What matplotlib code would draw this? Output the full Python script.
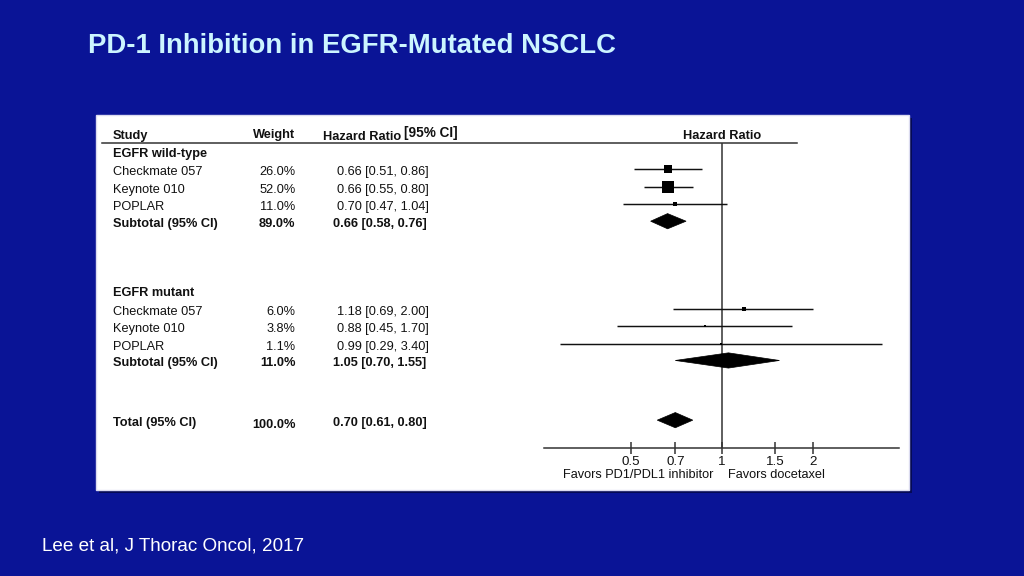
import matplotlib
matplotlib.use("Agg")
import matplotlib.pyplot as plt
from matplotlib.patches import Rectangle, Polygon
from matplotlib.lines import Line2D
from matplotlib.transforms import blended_transform_factory
from matplotlib.ticker import FixedLocator, NullLocator, FixedFormatter
from matplotlib import font_manager

# ---------------- data ----------------
wt_studies = ["Checkmate 057", "Keynote 010", "POPLAR"]
wt_weights = [26.0, 52.0, 11.0]
wt_hr = [0.66, 0.66, 0.70]
wt_lo = [0.51, 0.55, 0.47]
wt_hi = [0.86, 0.80, 1.04]
wt_sub = (89.0, 0.66, 0.58, 0.76)

mut_studies = ["Checkmate 057", "Keynote 010", "POPLAR"]
mut_weights = [6.0, 3.8, 1.1]
mut_hr = [1.18, 0.88, 0.99]
mut_lo = [0.69, 0.45, 0.29]
mut_hi = [2.00, 1.70, 3.40]
mut_sub = (11.0, 1.05, 0.70, 1.55)

total = (100.0, 0.70, 0.61, 0.80)

tick_values = [0.5, 0.7, 1, 1.5, 2]
tick_labels = ["0.5", "0.7", "1", "1.5", "2"]

# ---------------- style ----------------
W, H = 1024, 576
BG = "#0a1496"
names = {f.name for f in font_manager.fontManager.ttflist}
if "Liberation Sans Narrow" in names:
    title_font, title_size = "Liberation Sans Narrow", 24
else:
    title_font, title_size = "Liberation Sans", 19.8
FONT = "Liberation Sans"
plt.rcParams["font.family"] = [FONT, "DejaVu Sans"]
FS = 9.2

fig = plt.figure(figsize=(W / 100, H / 100), dpi=100, facecolor=BG)

def fx(px):
    return px / W

def fy(py):
    return 1 - py / H

# panel with shadow
fig.patches.append(Rectangle((fx(98.5), fy(493)), fx(909 - 95.7), (490 - 115) / H,
                             transform=fig.transFigure, facecolor="#050a55",
                             edgecolor="none", zorder=-3))
fig.patches.append(Rectangle((fx(95.7), fy(490)), fx(909 - 95.7), (490 - 115) / H,
                             transform=fig.transFigure, facecolor="white",
                             edgecolor="#dcdcf0", lw=1, zorder=-2))

# title & citation
fig.text(fx(88), fy(46), "PD-1 Inhibition in EGFR-Mutated NSCLC", family=[title_font, "DejaVu Sans"],
         fontsize=title_size, fontweight="bold", color="#ccf5ff", ha="left", va="center")
fig.text(fx(42), fy(546), "Lee et al, J Thorac Oncol, 2017", fontsize=13.6,
         color="white", ha="left", va="center")

# row layout (rows of 17.3 px starting at y=152 px)
ROW0, ROWH = 152.0, 17.3
def row_of(py):
    return (py - ROW0) / ROWH

TXT_DY = 3.0 / ROWH  # text sits slightly below the marker row

wt_head_row = 0
wt_rows = [1, 2, 3]
wt_sub_row = 4
mut_head_row = 8
mut_rows = [9.08, 10.08, 11.08]
mut_sub_row = 12.05
total_row = 15.5
header_row = -1.0

ax_top_px, ax_bot_px = 142.5, 447.5
ax = fig.add_axes([fx(544), fy(ax_bot_px), fx(899 - 544), (ax_bot_px - ax_top_px) / H])
ax.set_zorder(2)
ax.set_facecolor("none")
ax.set_xscale("log")
ax.set_xlim(0.257, 3.86)
ax.set_ylim(row_of(ax_bot_px), row_of(ax_top_px))
for s in ["top", "left", "right"]:
    ax.spines[s].set_visible(False)
ax.spines["bottom"].set_color("#333333")
ax.spines["bottom"].set_linewidth(1.1)
ax.set_yticks([])
ax.xaxis.set_major_locator(FixedLocator(tick_values))
ax.xaxis.set_major_formatter(FixedFormatter(tick_labels))
ax.xaxis.set_minor_locator(NullLocator())
ax.tick_params(axis="x", direction="inout", length=9, width=1.1, color="#333333",
               labelsize=9.6, pad=1.5, labelcolor="#111111")

# reference line at HR = 1
ax.axvline(1, color="#333333", lw=1.1, zorder=1)

# header line (within panel)
fig.add_artist(Line2D([fx(101.5), fx(797)], [fy(ax_top_px), fy(ax_top_px)],
                      transform=fig.transFigure, color="#333333", lw=1.1, zorder=3))

def square_size(w):
    side_px = 1.03 * w ** 0.6
    return (side_px * 0.72) ** 2

def draw_studies(rows, hr, lo, hi, weights):
    for r, h, l, u, w in zip(rows, hr, lo, hi, weights):
        ax.plot([l, u], [r, r], color="#111111", lw=1.05, solid_capstyle="butt", zorder=2)
        ax.scatter([h], [r], marker="s", s=square_size(w), color="#000000",
                   linewidths=0, zorder=3)

def draw_diamond(r, hr, lo, hi, half=0.44):
    ax.add_patch(Polygon([(lo, r), (hr, r - half), (hi, r), (hr, r + half)],
                         closed=True, facecolor="black", edgecolor="black", lw=0.5, zorder=3))

draw_studies(wt_rows, wt_hr, wt_lo, wt_hi, wt_weights)
draw_diamond(wt_sub_row, wt_sub[1], wt_sub[2], wt_sub[3])
draw_studies(mut_rows, mut_hr, mut_lo, mut_hi, mut_weights)
draw_diamond(mut_sub_row, mut_sub[1], mut_sub[2], mut_sub[3])
draw_diamond(total_row, total[1], total[2], total[3])

# table text
tt = blended_transform_factory(fig.transFigure, ax.transData)
def txt(px, row, s, ha="left", bold=False, size=FS, dy=TXT_DY):
    ax.text(fx(px), row + dy, s, transform=tt, ha=ha, va="center", fontsize=size,
            fontweight="bold" if bold else "normal", color="#111111", clip_on=False)

X_STUDY, X_WEIGHT, X_HR = 113, 295.5, 428.5

txt(X_STUDY, header_row, "Study", bold=True, dy=0.07)
txt(X_WEIGHT, header_row, "Weight", ha="right", bold=True, dy=0.04)
txt(323, header_row, "Hazard Ratio", bold=True, dy=0.12)
txt(404, header_row, "[95% CI]", bold=True, size=9.8, dy=-0.1)
ax.text(1, header_row + 0.07, "Hazard Ratio", ha="center", va="center", fontsize=FS,
        fontweight="bold", color="#111111", clip_on=False)

def fmt_ci(h, l, u):
    return f"{h:.2f} [{l:.2f}, {u:.2f}]"

def block(head_row, head, rows, studies, weights, hr, lo, hi, sub_row, sub):
    txt(X_STUDY, head_row, head, bold=True, dy=0.13)
    for r, s, w, h, l, u in zip(rows, studies, weights, hr, lo, hi):
        txt(X_STUDY, r, s)
        txt(X_WEIGHT, r, f"{w:.1f}%", ha="right")
        txt(X_HR, r, fmt_ci(h, l, u), ha="right")
    txt(X_STUDY, sub_row, "Subtotal (95% CI)", bold=True)
    txt(X_WEIGHT, sub_row, f"{sub[0]:.1f}%", ha="right", bold=True)
    txt(X_HR - 2, sub_row, fmt_ci(sub[1], sub[2], sub[3]), ha="right", bold=True)

block(wt_head_row, "EGFR wild-type", wt_rows, wt_studies, wt_weights, wt_hr, wt_lo, wt_hi,
      wt_sub_row, wt_sub)
block(mut_head_row, "EGFR mutant", mut_rows, mut_studies, mut_weights, mut_hr, mut_lo, mut_hi,
      mut_sub_row, mut_sub)

txt(X_STUDY, total_row, "Total (95% CI)", bold=True)
txt(X_WEIGHT, total_row, f"{total[0]:.1f}%", ha="right", bold=True, dy=TXT_DY + 0.08)
txt(X_HR - 2, total_row, fmt_ci(total[1], total[2], total[3]), ha="right", bold=True)

# favours labels
ax.annotate("Favors PD1/PDL1 inhibitor", xy=(1, 0), xycoords=("data", "axes fraction"),
            xytext=(-9, -28), textcoords="offset pixels", ha="right", va="center",
            fontsize=FS, color="#111111", annotation_clip=False)
ax.annotate("Favors docetaxel", xy=(1, 0), xycoords=("data", "axes fraction"),
            xytext=(6, -28), textcoords="offset pixels", ha="left", va="center",
            fontsize=FS, color="#111111", annotation_clip=False)

fig.savefig("out.png", dpi=100, facecolor=BG)
